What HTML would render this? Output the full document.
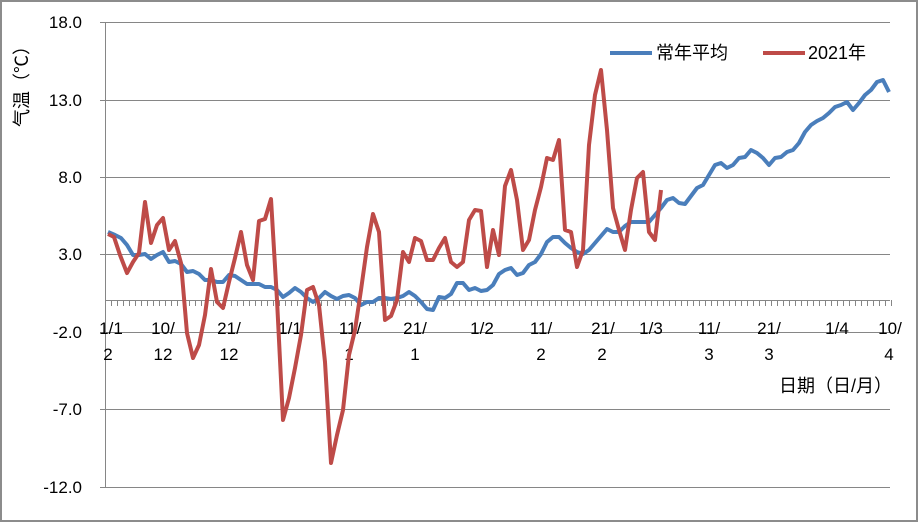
<!DOCTYPE html>
<html><head><meta charset="utf-8"><style>
html,body{margin:0;padding:0;background:#fff}
svg{display:block}
text{font-family:"Liberation Sans","Noto Sans CJK SC",sans-serif;fill:#000}
</style></head><body>
<svg width="918" height="522" viewBox="0 0 918 522" xmlns="http://www.w3.org/2000/svg">
<defs>
<pattern id="tk" x="105" y="300" width="6" height="6" patternUnits="userSpaceOnUse">
<rect x="0" y="0" width="1" height="6" fill="#868686"/>
</pattern>
</defs>
<rect x="1" y="1" width="916" height="520" fill="#fff" stroke="#8c8c8c" stroke-width="2"/>
<g stroke="#868686" stroke-width="1">
<line x1="100" y1="22.5" x2="890" y2="22.5"/>
<line x1="100" y1="100.5" x2="890" y2="100.5"/>
<line x1="100" y1="177.5" x2="890" y2="177.5"/>
<line x1="100" y1="254.5" x2="890" y2="254.5"/>
<line x1="100" y1="332.5" x2="890" y2="332.5"/>
<line x1="100" y1="409.5" x2="890" y2="409.5"/>
<line x1="100" y1="487.5" x2="890" y2="487.5"/>
<line x1="105.5" y1="22" x2="105.5" y2="487"/>
<line x1="105" y1="300.5" x2="890" y2="300.5"/>
</g>
<rect x="105" y="300" width="787" height="6" fill="url(#tk)"/>
<g font-size="17" text-anchor="end">
<text x="82" y="28">18.0</text><text x="82" y="106">13.0</text><text x="82" y="183">8.0</text>
<text x="82" y="260">3.0</text><text x="82" y="338">-2.0</text><text x="82" y="415">-7.0</text><text x="82" y="493">-12.0</text>
</g>
<text transform="translate(28,82) rotate(-90)" font-size="18" text-anchor="middle">气温（℃）</text>
<g font-size="17" text-anchor="middle">
<text x="111" y="334">1/1</text><text x="108" y="360">2</text>
<text x="163" y="334">10/</text><text x="163" y="360">12</text>
<text x="229" y="334">21/</text><text x="229" y="360">12</text>
<text x="290" y="334">1/1</text>
<text x="350" y="334">11/</text><text x="349" y="360">1</text>
<text x="415" y="334">21/</text><text x="415" y="360">1</text>
<text x="482" y="334">1/2</text>
<text x="541" y="334">11/</text><text x="541" y="360">2</text>
<text x="603" y="334">21/</text><text x="602" y="360">2</text>
<text x="651" y="334">1/3</text>
<text x="709" y="334">11/</text><text x="709" y="360">3</text>
<text x="769" y="334">21/</text><text x="769" y="360">3</text>
<text x="837" y="334">1/4</text>
<text x="890" y="334">10/</text><text x="889" y="360">4</text>
</g>
<text x="892" y="392" font-size="18" text-anchor="end">日期（日/月）</text>
<line x1="610" y1="53" x2="652" y2="53" stroke="#4a7ebb" stroke-width="4"/>
<text x="656" y="59" font-size="18">常年平均</text>
<line x1="763" y1="53" x2="805" y2="53" stroke="#be4b48" stroke-width="4"/>
<text x="808" y="59" font-size="18">2021年</text>
<polyline fill="none" stroke="#4a7ebb" stroke-width="4" stroke-linejoin="round" points="108,232 115,235 121,238 127,245 133,255 139,255 145,254 151,259 157,255 163,252 169,262 175,261 181,264 187,272 193,271 199,274 205,280 211,280 217,282 223,282 229,275 235,276 241,280 247,284 253,284 259,284 265,287 271,287 277,290 283,297 289,293 295,288 301,292 307,298 313,302 319,298 325,292 331,296 337,299 343,296 349,295 355,298 361,305 367,302 373,302 379,298 385,298 391,299 397,298 403,296 409,292 415,296 421,302 427,309 433,310 439,297 445,298 451,294 457,283 463,283 469,290 475,288 481,291 487,290 493,285 499,274 505,270 511,268 517,275 523,273 529,265 535,262 541,254 547,242 553,237 559,237 565,243 571,248 577,252 583,254 589,250 595,243 601,236 607,229 613,232 619,232 625,226 631,222 637,222 643,222 649,222 655,215 661,208 667,200 673,198 679,203 685,204 691,196 697,188 703,185 709,175 715,165 721,163 727,168 733,165 739,158 745,157 751,150 757,153 763,158 769,165 775,158 781,157 787,152 793,150 799,143 805,132 811,125 817,121 823,118 829,113 835,107 841,105 847,102 853,110 859,103 865,95 871,90 877,82 883,80 889,92"/>
<polyline fill="none" stroke="#be4b48" stroke-width="4" stroke-linejoin="round" points="108,234 114,237 120,255 127,273 133,262 139,253 145,202 151,243 157,225 163,218 169,250 175,241 181,263 187,333 193,358 199,345 205,315 211,269 217,302 223,308 229,282 235,258 241,232 247,265 253,280 259,221 265,219 271,199 277,300 283,420 289,398 295,368 301,335 307,290 313,287 319,305 325,362 331,463 337,435 343,410 349,355 355,330 361,290 367,247 373,214 379,232 385,320 391,316 397,300 403,252 409,262 415,238 421,241 427,260 433,260 439,248 445,238 451,262 457,267 463,262 469,220 475,210 481,211 487,267 493,230 499,255 505,186 511,170 517,200 523,250 529,240 535,210 541,187 547,158 553,160 559,140 565,230 571,232 577,267 583,250 589,145 595,95 601,70 607,130 613,208 619,230 625,250 631,210 637,178 643,172 649,232 655,240 661,190"/>
</svg>
</body></html>
